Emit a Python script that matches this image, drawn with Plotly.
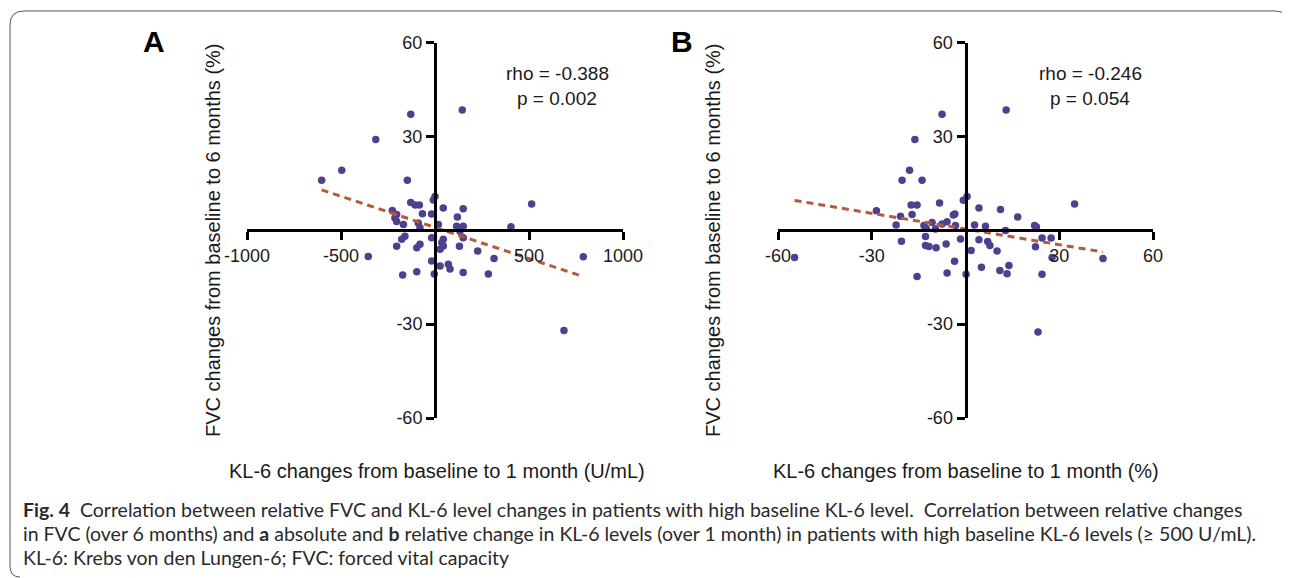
import plotly.graph_objects as go

# ---------------- data ----------------
# Panel A: KL-6 absolute change (U/mL) vs FVC change (%)
kl6_abs = [-129, 145, -315, -496, -603, -147, 0, -9, -129, -106, -83, 44, 150, -67, -18,
           -227, -204, 119, -213, -204, -168, -89, -80, 18, 115, 150, 133, 150, -18, 44,
           36, 27, -160, -177, -204, -80, -97, 130, 227, -355, -18, 27, 71, 80, -97,
           -172, -4, 150, 514, 404, 314, 284, 789, 686, 44]
fvc_a = [37.1, 38.4, 29.0, 19.2, 16.0, 16.0, 10.8, 9.7, 8.9, 8.1, 8.1, 7.1, 6.9, 5.3, 5.2,
         6.3, 5.0, 4.2, 3.9, 2.8, 1.8, 2.3, 0.8, 1.8, 1.3, 1.3, -0.3, -2.4, -2.4, -2.9,
         -4.0, -6.1, -1.9, -2.9, -5.1, -4.5, -5.6, -5.1, -6.6, -8.4, -9.8, -11.4, -10.9, -12.4, -13.3,
         -14.3, -14.0, -13.5, 8.4, 1.1, -9.0, -14.0, -8.5, -32.0, -5.0]

# Panel B: KL-6 relative change (%) vs FVC change (%)
kl6_rel = [-7.5, 13.0, -16.2, -17.9, -20.3, -13.9, 0.5, -0.7, -8.3, -17.4, -15.5, 4.3, 11.2, -28.5, -17.1,
           -20.8, -3.4, -3.9, 16.7, 34.9, -22.2, -13.3, -12.6, -10.7, -9.6, -7.5, -5.9, -3.2, 2.9, 6.4,
           12.8, 22.1, 22.7, -20.5, -12.8, -12.8, -11.7, -9.4, -6.2, -1.6, 1.8, 4.3, 7.1, 7.8, 10.1,
           24.5, 27.4, 22.4, 27.7, 44.0, -54.7, -3.5, -15.5, -5.9, 0.2, 5.1, 13.9, 11.0, 13.3, 24.5,
           23.2]
fvc_b = [37.1, 38.4, 29.0, 19.2, 16.0, 16.0, 10.8, 9.6, 8.7, 8.1, 8.1, 7.1, 6.6, 6.2, 5.0,
         4.5, 5.2, 4.9, 4.2, 8.4, 1.7, 1.5, 0.6, 2.5, 0.4, 2.0, 2.7, 1.5, 1.7, 1.3,
         -0.1, 1.5, 1.0, -3.5, -2.0, -4.9, -5.2, -5.6, -4.4, -2.8, -6.5, -3.0, -3.6, -4.9, -6.6,
         -2.5, -2.5, -5.3, -8.7, -9.0, -8.7, -9.9, -14.8, -13.7, -14.1, -11.8, -11.3, -12.9, -13.9, -14.1,
         -32.5]

# regression lines (slope, intercept)
fit_a = (-0.0199, 0.9)
fit_b = (-0.167, 0.4)

stats_a = ["rho = -0.388", "p = 0.002"]
stats_b = ["rho = -0.246", "p = 0.054"]

xticks_a = [-1000, -500, 500, 1000]
xticks_b = [-60, -30, 30, 60]
yticks = [-60, -30, 30, 60]

ytitle = "FVC changes from baseline to 6 months (%)"
xtitle_a = "KL-6 changes from baseline to 1 month (U/mL)"
xtitle_b = "KL-6 changes from baseline to 1 month (%)"

caption = [
    "<b>Fig. 4</b>  Correlation between relative FVC and KL-6 level changes in patients with high baseline KL-6 level.  Correlation between relative changes",
    "in FVC (over 6 months) and <b>a</b> absolute and <b>b</b> relative change in KL-6 levels (over 1 month) in patients with high baseline KL-6 levels (\u2265 500 U/mL).",
    "KL-6: Krebs von den Lungen-6; FVC: forced vital capacity",
]

# ---------------- layout ----------------
# the page body has an 8px margin, so the figure is placed at (8, 8) on screen
OFF = 8
W, H = 1290 - OFF, 578 - OFF
def px(x):
    return (x - OFF) / W
def py(y):
    return 1 - (y - OFF) / H

dom_y = [py(418), py(42.5)]
dom_xa = [px(247), px(623)]
dom_xb = [px(778), px(1153)]
range_a = [-1000, 1000]
range_b = [-60, 60]
range_y = [-60, 60]

def zero_pos(dom, rng):
    return dom[0] + (0 - rng[0]) / (rng[1] - rng[0]) * (dom[1] - dom[0])

def hy(vals):
    return [str(v) for v in vals]  # plain hyphen minus

PURPLE = "#4f3f8f"
RUST = "#b5593a"
AXFONT = dict(family="Liberation Sans, Arial, sans-serif", size=18, color="#1a1a1a")

fig = go.Figure()

fig.add_trace(go.Scatter(x=kl6_abs, y=fvc_a, mode="markers",
                         marker=dict(color=PURPLE, size=7.5), xaxis="x", yaxis="y",
                         showlegend=False))
xa_line = [min(kl6_abs), max(kl6_abs)]
fig.add_trace(go.Scatter(x=xa_line, y=[fit_a[0] * v + fit_a[1] for v in xa_line], mode="lines",
                         line=dict(color=RUST, width=3, dash="7px,5px"), xaxis="x", yaxis="y",
                         showlegend=False))

fig.add_trace(go.Scatter(x=kl6_rel, y=fvc_b, mode="markers",
                         marker=dict(color=PURPLE, size=7.5), xaxis="x2", yaxis="y2",
                         showlegend=False))
xb_line = [min(kl6_rel), max(kl6_rel)]
fig.add_trace(go.Scatter(x=xb_line, y=[fit_b[0] * v + fit_b[1] for v in xb_line], mode="lines",
                         line=dict(color=RUST, width=3, dash="7px,5px"), xaxis="x2", yaxis="y2",
                         showlegend=False))

common_axis = dict(showgrid=False, zeroline=False, showline=True, linecolor="black",
                   linewidth=3, ticks="outside", ticklen=8, tickwidth=3, tickcolor="black",
                   tickfont=AXFONT, anchor="free", fixedrange=True, automargin=False)

ypos = zero_pos(dom_y, range_y)
fig.update_layout(
    width=W, height=H,
    autosize=False,
    margin=dict(l=0, r=0, t=0, b=0, pad=0, autoexpand=False),
    paper_bgcolor="white", plot_bgcolor="white",
    xaxis=dict(domain=dom_xa, range=range_a, tickvals=xticks_a, ticktext=hy(xticks_a),
               position=ypos, **common_axis),
    yaxis=dict(domain=dom_y, range=range_y, tickvals=yticks, ticktext=hy(yticks),
               position=zero_pos(dom_xa, range_a), **common_axis),
    xaxis2=dict(domain=dom_xb, range=range_b, tickvals=xticks_b, ticktext=hy(xticks_b),
                position=ypos, **common_axis),
    yaxis2=dict(domain=dom_y, range=range_y, tickvals=yticks, ticktext=hy(yticks),
                position=zero_pos(dom_xb, range_b), **common_axis),
)

ann = []
TXT = dict(family="Liberation Sans, Arial, sans-serif", size=19, color="#1a1a1a")
TITLE = dict(family="Liberation Sans, Arial, sans-serif", size=20, color="#1a1a1a")
def center_ann(text, x, y, font, **kw):
    return dict(text=text, x=px(x), y=py(y), xref="paper", yref="paper",
                xanchor="center", yanchor="middle", showarrow=False, font=font, **kw)

# panel letters
LET = dict(family="Liberation Sans, Arial", size=30, color="black")
ann.append(center_ann("<b>A</b>", 154, 42, LET))
ann.append(center_ann("<b>B</b>", 682, 42, LET))
# stats
for cx, st in [(557, stats_a), (1090, stats_b)]:
    ann.append(center_ann(st[0], cx, 73, TXT))
    ann.append(center_ann(st[1], cx, 98, TXT))
# y titles
for cx in (213, 713):
    ann.append(center_ann(ytitle, cx, 240, TITLE, textangle=-90))
# x titles
ann.append(center_ann(xtitle_a, 437, 471, TITLE))
ann.append(center_ann(xtitle_b, 966, 471, TITLE))
# caption
for i, line in enumerate(caption):
    ann.append(dict(text=line, x=px(21), y=py(509 + 24 * i), xref="paper", yref="paper",
                    xanchor="left", yanchor="middle", showarrow=False,
                    font=dict(family="Lato, Open Sans, sans-serif", size=19.5, color="#2a2a2a")))
fig.update_layout(annotations=ann)

# rounded frame
def P(x, y):
    return f"{px(x):.5f},{py(y):.5f}"
frame = (f"M {P(1289, 26)} Q {P(1289, 11)} {P(1275, 11)} L {P(24, 11)} "
         f"Q {P(10, 11)} {P(10, 25)} L {P(10, 566)} Q {P(10, 577)} {P(20, 577)}")
fig.add_shape(type="path", path=frame, xref="paper", yref="paper",
              line=dict(color="#555555", width=1))

fig.write_html("out.html")
